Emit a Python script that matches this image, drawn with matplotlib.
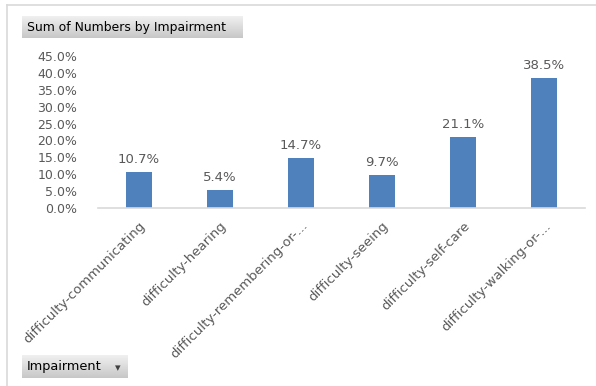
import numpy as np
import matplotlib.pyplot as plt
from matplotlib.lines import Line2D
from matplotlib.ticker import FuncFormatter

impairments = ["difficulty-communicating", "difficulty-hearing",
               "difficulty-remembering-or-...", "difficulty-seeing",
               "difficulty-self-care", "difficulty-walking-or-..."]
shares = [10.7, 5.4, 14.7, 9.7, 21.1, 38.5]
yticks = [0, 5, 10, 15, 20, 25, 30, 35, 40, 45]

W, H = 596, 386
fig = plt.figure(figsize=(W / 100, H / 100), dpi=100)
fig.patch.set_facecolor("white")

grey = "#595959"

# chart area frame (top and left edges)
fig.add_artist(Line2D([7 / W, 1], [1 - 5 / H, 1 - 5 / H], color="#d9d9d9", lw=1.2))
fig.add_artist(Line2D([7 / W, 7 / W], [0, 1 - 5 / H], color="#d9d9d9", lw=1.2))

ax = fig.add_axes([98 / W, 1 - 208 / H, (585 - 98) / W, (208 - 56) / H])
x = np.arange(len(impairments))
ax.bar(x, shares, width=0.32, color="#4f81bd")
for xi, v in zip(x, shares):
    ax.text(xi, v + 1.8, f"{v:.1f}%", ha="center", va="bottom",
            fontsize=9.5, color=grey)

ax.set_xlim(-0.5, len(impairments) - 0.5)
ax.set_ylim(0, 45)
ax.set_yticks(yticks)
ax.yaxis.set_major_formatter(FuncFormatter(lambda v, p: f"{v:.1f}%"))
ax.set_xticks(x)
ax.set_xticklabels(impairments, rotation=45, ha="right", va="top",
                   rotation_mode="anchor", fontsize=9.5, color=grey)
ax.tick_params(axis="y", length=0, labelsize=9, labelcolor=grey, pad=15)
ax.tick_params(axis="x", length=0, pad=8)
for s in ["top", "right", "left"]:
    ax.spines[s].set_visible(False)
ax.spines["bottom"].set_color("#d9d9d9")
ax.spines["bottom"].set_linewidth(1.2)


def button(x0, y0, x1, y1, label, size, arrow=False):
    b = fig.add_axes([x0 / W, 1 - y1 / H, (x1 - x0) / W, (y1 - y0) / H])
    grad = np.linspace(0.94, 0.78, 50).reshape(-1, 1)
    b.imshow(grad, aspect="auto", cmap="gray", vmin=0, vmax=1,
             extent=[0, 1, 0, 1], origin="upper")
    b.set_xlim(0, 1)
    b.set_ylim(0, 1)
    b.axis("off")
    b.text(5 / (x1 - x0), 0.5, label, ha="left", va="center",
           fontsize=size, color="black")
    if arrow:
        b.text(0.9, 0.45, "\u25be", ha="center", va="center", fontsize=8, color="#404040")


button(22, 16, 243, 38, "Sum of Numbers by Impairment", 8.9)
button(22, 355, 128, 378, "Impairment", 9.3, arrow=True)

fig.savefig("out.png", dpi=100)
